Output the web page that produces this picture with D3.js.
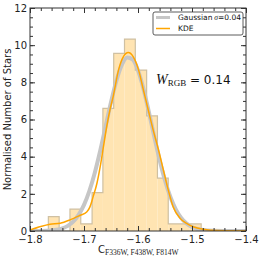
<!DOCTYPE html>
<html>
<head>
<meta charset="utf-8">
<script src="https://cdn.jsdelivr.net/npm/d3@7"></script>
<style>
	body { margin: 0; background: #fff; }
	svg { display: block; }
	.tick text { font-family: 'DejaVu Sans', sans-serif; font-size: 10px; fill: #222; }
</style>
</head>
<body>
<svg id="chart"></svg>
<script>
const width = 262, height = 260;
const margin = { left: 30, top: 8, right: 16, bottom: 29 };

// histogram
const binEdges = [-1.766, -1.746, -1.726, -1.706, -1.685, -1.665, -1.645, -1.625, -1.605, -1.584, -1.564, -1.544, -1.524, -1.504, -1.483];
const binHeights = [0.77, 0, 1.18, 0.38, 2.06, 6.6, 9.56, 10.33, 8.66, 6.19, 2.84, 0.38, 0.38, 0.38];

// gaussian (sigma=0.04) curve
const gaussX = [-1.80, -1.78, -1.76, -1.75, -1.74, -1.73, -1.72, -1.71, -1.70, -1.69, -1.68, -1.67, -1.66, -1.65, -1.64, -1.63, -1.62, -1.61, -1.60, -1.59, -1.58, -1.57, -1.56, -1.55, -1.54, -1.53, -1.52, -1.51, -1.50, -1.49, -1.48, -1.46, -1.44, -1.40];
const gaussY = [0.001, 0.006, 0.034, 0.072, 0.145, 0.278, 0.504, 0.864, 1.403, 2.157, 3.135, 4.317, 5.626, 6.934, 8.088, 8.934, 9.337, 9.234, 8.644, 7.657, 6.419, 5.091, 3.825, 2.717, 1.827, 1.164, 0.701, 0.399, 0.215, 0.110, 0.053, 0.011, 0.002, 0];

// KDE curve
const kdeX = [-1.80, -1.78, -1.763, -1.744, -1.726, -1.707, -1.695, -1.689, -1.683, -1.676, -1.670, -1.664, -1.658, -1.652, -1.646, -1.636, -1.627, -1.618, -1.609, -1.599, -1.590, -1.581, -1.572, -1.562, -1.553, -1.544, -1.535, -1.522, -1.510, -1.498, -1.479, -1.465, -1.44, -1.40];
const kdeY = [0.05, 0.24, 0.36, 0.42, 0.6, 0.85, 1.02, 1.3, 1.85, 2.57, 3.46, 4.54, 5.61, 6.51, 7.23, 8.67, 9.38, 9.6, 9.38, 8.67, 7.59, 6.51, 5.44, 4.36, 3.28, 2.21, 1.31, 0.68, 0.41, 0.23, 0.09, 0.04, 0.01, 0];

const xTicks = [-1.8, -1.7, -1.6, -1.5, -1.4];
const yTicks = [0, 2, 4, 6, 8, 10, 12];
const legendLabels = ['Gaussian', 'KDE'];

const config = {
	frame: '#333',
	histFill: '#ffe4b2',
	histStroke: '#cfc0a2',
	gauss: '#c6c6c6',
	kde: '#ffa500'
};

const svg = d3.select('#chart').attr('width', width).attr('height', height);

const x = d3.scaleLinear().domain([-1.8, -1.4]).range([margin.left, width - margin.right]);
const y = d3.scaleLinear().domain([0, 12]).range([height - margin.bottom, margin.top]);

svg.append('defs').append('clipPath').attr('id', 'clip')
	.append('rect')
	.attr('x', x.range()[0]).attr('y', y.range()[1])
	.attr('width', x.range()[1] - x.range()[0])
	.attr('height', y.range()[0] - y.range()[1]);

const plot = svg.append('g').attr('clip-path', 'url(#clip)');

// bars: filled rects, then one step outline over them
const bins = binHeights.map((h, i) => ({ x0: binEdges[i], x1: binEdges[i + 1], h }));
plot.append('g')
	.selectAll('rect')
	.data(bins.filter(b => b.h > 0))
	.enter()
	.append('rect')
	.attr('x', d => x(d.x0))
	.attr('y', d => y(d.h))
	.attr('width', d => x(d.x1) - x(d.x0))
	.attr('height', d => y(0) - y(d.h))
	.style('fill', config.histFill);

const stepPts = [[binEdges[0], 0]];
bins.forEach(b => { stepPts.push([b.x0, b.h], [b.x1, b.h]); });
stepPts.push([binEdges[binEdges.length - 1], 0]);
plot.append('path')
	.attr('d', d3.line().x(d => x(d[0])).y(d => y(d[1]))(stepPts))
	.style('fill', 'none')
	.style('stroke', config.histStroke)
	.style('stroke-width', 1.2);

const line = d3.line().x(d => x(d[0])).y(d => y(d[1])).curve(d3.curveMonotoneX);

plot.append('path')
	.attr('d', line(gaussX.map((v, i) => [v, gaussY[i]])))
	.style('fill', 'none')
	.style('stroke', config.gauss)
	.style('stroke-width', 4)
	.style('stroke-linecap', 'round');

plot.append('path')
	.attr('d', line(kdeX.map((v, i) => [v, kdeY[i]])))
	.style('fill', 'none')
	.style('stroke', config.kde)
	.style('stroke-width', 1.5);

// axes, ticks pointing inwards on all four sides
const minorX = d3.range(-1.8, -1.399, 0.02);
const minorY = d3.range(0, 12.01, 0.5);
function styleAxis(g) {
	g.select('.domain').remove();
	g.selectAll('.tick line').style('stroke', config.frame);
}
const axes = [
	[d3.axisBottom(x), `translate(0,${y(0)})`],
	[d3.axisTop(x), `translate(0,${y(12)})`],
	[d3.axisLeft(y), `translate(${x(-1.8)},0)`],
	[d3.axisRight(y), `translate(${x(-1.4)},0)`]
];
axes.forEach(([ax, tr], i) => {
	const isX = i < 2;
	svg.append('g').attr('transform', tr)
		.call(ax.tickValues(isX ? minorX : minorY).tickSize(-3).tickFormat(''))
		.call(styleAxis);
	const major = svg.append('g').attr('transform', tr)
		.call(ax.tickValues(isX ? xTicks : yTicks).tickSize(-5).tickPadding(isX ? 5 : 3)
			.tickFormat(isX ? d3.format('.1f') : d3.format('d')))
		.call(styleAxis);
	if (i % 2 === 1) major.selectAll('text').remove();
});

svg.append('rect')
	.attr('x', x(-1.8)).attr('y', y(12))
	.attr('width', x(-1.4) - x(-1.8)).attr('height', y(0) - y(12))
	.style('fill', 'none').style('stroke', config.frame).style('stroke-width', 1);

// axis labels
svg.append('text')
	.attr('transform', `translate(11,${(y(0) + y(12)) / 2}) rotate(-90)`)
	.attr('text-anchor', 'middle')
	.style('font-family', 'DejaVu Sans').style('font-size', '10px').style('fill', '#222')
	.text('Normalised Number of Stars');

const xl = svg.append('text')
	.attr('x', 98).attr('y', 253)
	.style('font-family', 'DejaVu Sans').style('font-size', '10px').style('fill', '#222');
xl.append('tspan').text('C');
xl.append('tspan').attr('dy', 2).style('font-family', 'Liberation Serif').style('font-size', '7.5px')
	.text('F336W, F438W, F814W');

// annotation
const ann = svg.append('text').attr('x', 156).attr('y', 84)
	.style('font-size', '12px').style('fill', '#111');
ann.append('tspan').style('font-family', 'Liberation Serif').style('font-style', 'italic').style('font-size', '14px').text('W');
ann.append('tspan').attr('dy', 2).style('font-family', 'Liberation Serif').style('font-size', '9px').text('RGB');
ann.append('tspan').attr('dy', -2).style('font-family', 'DejaVu Sans').text(' = 0.14');

// legend
const legend = svg.append('g');
legend.append('rect')
	.attr('x', 153).attr('y', 12).attr('width', 90).attr('height', 23).attr('rx', 2)
	.style('fill', '#fff').style('stroke', '#333').style('stroke-width', 0.8);
const legendColors = [config.gauss, config.kde];
const legendWidths = [3, 1.5];
legendLabels.forEach((lab, i) => {
	const ly = 17.5 + i * 11;
	legend.append('line')
		.attr('x1', 156).attr('x2', 170).attr('y1', ly).attr('y2', ly)
		.style('stroke', legendColors[i]).style('stroke-width', legendWidths[i]);
	const t = legend.append('text').attr('x', 178).attr('y', ly + 2.7)
		.style('font-family', 'DejaVu Sans').style('font-size', '7.5px').style('fill', '#111');
	t.append('tspan').text(lab);
	if (i === 0) {
		t.append('tspan').style('font-family', 'Liberation Serif').style('font-style', 'italic').text(' σ');
		t.append('tspan').text('=0.04');
	}
});
</script>
</body>
</html>
